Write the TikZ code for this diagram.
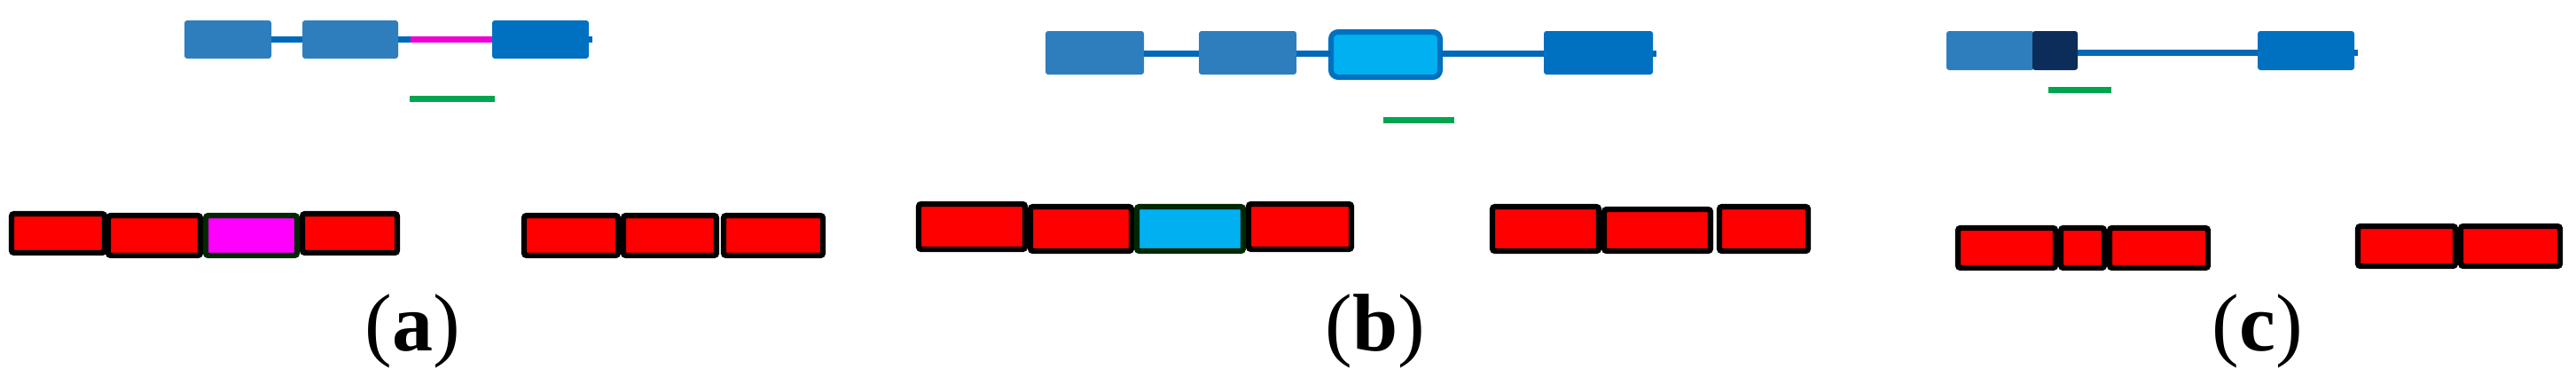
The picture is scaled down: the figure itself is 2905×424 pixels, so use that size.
\documentclass[tikz,border=0pt]{standalone}
\usepackage{fontspec}
\setmainfont{Liberation Serif}
\newfontfamily\lblfont{Liberation Serif}
\definecolor{exonA}{RGB}{46,126,190}
\definecolor{exonB}{RGB}{0,112,192}
\definecolor{exonN}{RGB}{12,45,90}
\definecolor{linkblue}{RGB}{0,104,184}
\definecolor{magline}{RGB}{240,0,210}
\definecolor{magfill}{RGB}{255,0,255}
\definecolor{redfill}{RGB}{255,0,0}
\definecolor{grnline}{RGB}{0,165,80}
\definecolor{cyanfill}{RGB}{0,176,240}
\definecolor{dkgreen}{RGB}{0,40,0}
\newcommand\mybox[7]{\node[#1, minimum width={(#5-#3-#7)*0.5pt}, minimum height={(#6-#4-#7)*0.5pt}] (#2) at ({(#3+#5)/2},{(#4+#6)/2}) {};}
\tikzset{
  exonbox/.style={inner sep=0pt, outer sep=0pt, draw=none, fill=exonA, rounded corners=1.5pt},
  exondark/.style={exonbox, fill=exonB},
  exonnavy/.style={exonbox, fill=exonN},
  exoncyan/.style={inner sep=0pt, outer sep=0pt, draw=exonB, line width=3pt, fill=cyanfill, rounded corners=4pt},
  redbox/.style={inner sep=0pt, outer sep=0pt, draw=black, line width=3.2pt, fill=redfill, rounded corners=1.5pt},
  magbox/.style={redbox, draw=dkgreen, fill=magfill},
  cyanbox/.style={redbox, draw=dkgreen, fill=cyanfill},
  link/.style={draw=linkblue, line width=3.5pt},
  maglink/.style={draw=magline, line width=3.5pt},
  greenbar/.style={draw=grnline, line width=3.5pt},
  panel/.style={anchor=base, inner sep=0pt, font=\lblfont\fontsize{46}{52}\selectfont}
}
\begin{document}
\begin{tikzpicture}[x=0.5pt, y=-0.5pt]
\useasboundingbox (0,0) rectangle (2905,424);
% ---------- (a) ----------
\mybox{exonbox}{a1}{208}{23}{306}{66}{0}
\mybox{exonbox}{a2}{341}{23}{449}{66}{0}
\mybox{exondark}{a3}{555}{23}{664}{66}{0}
\coordinate (am) at (463,44.5);
\coordinate (a3n) at (668,44.5);
\draw[link] (a1.east) -- (a2.west);
\draw[link] (a2.east) -- (am);
\draw[maglink] (am) -- (a3.west);
\draw[link] (a3.east) -- (a3n);
\coordinate (ag1) at (462,111);
\coordinate (ag2) at (558,111);
\draw[greenbar] (ag1) -- (ag2);
\mybox{redbox}{ar1}{10}{238}{121}{288}{6}
\mybox{redbox}{ar2}{119}{240}{229}{291}{6}
\mybox{magbox}{ar3}{229}{240}{338}{291}{6}
\mybox{redbox}{ar4}{338}{238}{451}{288}{6}
\mybox{redbox}{ar5}{588}{240}{700}{291}{6}
\mybox{redbox}{ar6}{700}{240}{811}{291}{6}
\mybox{redbox}{ar7}{813}{240}{931}{291}{6}
\node[panel] (la) at (465,395) {(\textbf{a})};
% ---------- (b) ----------
\mybox{exonbox}{b1}{1179}{35}{1290}{84}{0}
\mybox{exonbox}{b2}{1352}{35}{1462}{84}{0}
\mybox{exoncyan}{b3}{1498}{33}{1627}{90}{6}
\mybox{exondark}{b4}{1741}{35}{1864}{84}{0}
\coordinate (b4n) at (1868,60);
\draw[link] (b1.east |- 0,60) -- (b2.west |- 0,60);
\draw[link] (b2.east |- 0,60) -- (b3.west |- 0,60);
\draw[link] (b3.east |- 0,60) -- (b4.west |- 0,60);
\draw[link] (b4.east |- 0,60) -- (b4n);
\coordinate (bg1) at (1560,135);
\coordinate (bg2) at (1640,135);
\draw[greenbar] (bg1) -- (bg2);
\mybox{redbox}{br1}{1033}{227}{1159}{284}{6}
\mybox{redbox}{br2}{1159}{230}{1279}{286}{6}
\mybox{cyanbox}{br3}{1279}{230}{1405}{286}{6}
\mybox{redbox}{br4}{1405}{227}{1527}{284}{6}
\mybox{redbox}{br5}{1680}{230}{1806}{286}{6}
\mybox{redbox}{br6}{1806}{233}{1932}{286}{6}
\mybox{redbox}{br7}{1936}{230}{2042}{286}{6}
\node[panel] (lb) at (1551,395) {(\textbf{b})};
% ---------- (c) ----------
\mybox{exonbox}{c1}{2195}{35}{2294}{79}{0}
\mybox{exonnavy}{c2}{2292}{35}{2343}{79}{0}
\mybox{exondark}{c3}{2546}{35}{2655}{79}{0}
\coordinate (c3n) at (2659,59);
\draw[link] (c2.east |- 0,59) -- (c3.west |- 0,59);
\draw[link] (c3.east |- 0,59) -- (c3n);
\coordinate (cg1) at (2310,101);
\coordinate (cg2) at (2381,101);
\draw[greenbar] (cg1) -- (cg2);
\mybox{redbox}{cr1}{2205}{254}{2321}{305}{6}
\mybox{redbox}{cr2}{2321}{254}{2376}{305}{6}
\mybox{redbox}{cr3}{2376}{254}{2493}{305}{6}
\mybox{redbox}{cr4}{2656}{252}{2772}{303}{6}
\mybox{redbox}{cr5}{2772}{252}{2890}{303}{6}
\node[panel] (lc) at (2546,395) {(\textbf{c})};
\end{tikzpicture}
\end{document}
